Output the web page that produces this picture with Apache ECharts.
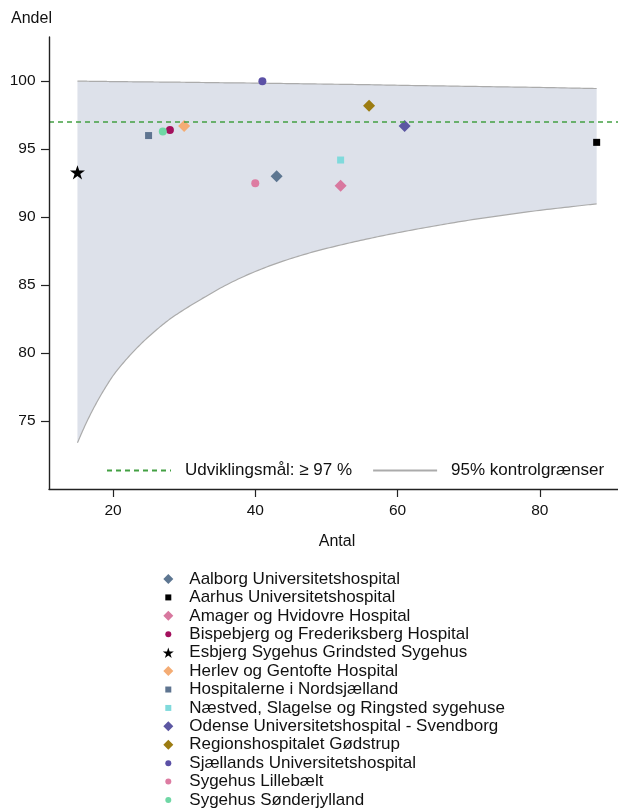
<!DOCTYPE html>
<html><head><meta charset="utf-8">
<script src="https://cdn.jsdelivr.net/npm/echarts@6/dist/echarts.min.js"></script>
<style>html,body{margin:0;padding:0;background:#fff}#c{width:618px;height:810px}</style>
</head><body><div id="c"></div>
<script>
// ---- data ----
const hospitals = [
  'Aalborg Universitetshospital',
  'Aarhus Universitetshospital',
  'Amager og Hvidovre Hospital',
  'Bispebjerg og Frederiksberg Hospital',
  'Esbjerg Sygehus Grindsted Sygehus',
  'Herlev og Gentofte Hospital',
  'Hospitalerne i Nordsjælland',
  'Næstved, Slagelse og Ringsted sygehuse',
  'Odense Universitetshospital - Svendborg',
  'Regionshospitalet Gødstrup',
  'Sjællands Universitetshospital',
  'Sygehus Lillebælt',
  'Sygehus Sønderjylland'
];
const antal = [43, 88, 52, 28, 15, 30, 25, 52, 61, 56, 41, 40, 27];
const andel = [93.0, 95.5, 92.3, 96.4, 93.3, 96.7, 96.0, 94.2, 96.7, 98.2, 100, 92.5, 96.3];

const targetLabel = 'Udviklingsmål: ≥ 97 %';
const targetValue = 97;
const limitLabel = '95% kontrolgrænser';

const limitN = [15, 16, 17, 18, 19, 20, 22, 24, 26, 28, 30, 33, 36, 40, 44, 48, 52, 56, 60, 65, 70, 75, 80, 85, 88];
const lowerLimit = [73.4, 74.59, 75.67, 76.64, 77.52, 78.33, 79.61, 80.71, 81.66, 82.5, 83.2, 84.15, 85.03, 86.0, 86.78, 87.42, 87.95, 88.42, 88.85, 89.33, 89.77, 90.15, 90.5, 90.8, 90.98];
const upperLimit = [100, 100, 99.99, 99.99, 99.98, 99.97, 99.96, 99.95, 99.94, 99.93, 99.92, 99.9, 99.88, 99.86, 99.83, 99.8, 99.77, 99.74, 99.7, 99.66, 99.62, 99.58, 99.54, 99.49, 99.46];

const xTicks = [20, 40, 60, 80];
const yTicks = [75, 80, 85, 90, 95, 100];

// ---- styles ----
const STAR = 'path://M0,-10 L2.245,-3.09 L9.51,-3.09 L3.633,1.18 L5.88,8.09 L0,3.82 L-5.88,8.09 L-3.633,1.18 L-9.51,-3.09 L-2.245,-3.09 Z';
const symbols = ['diamond', 'rect', 'diamond', 'circle', STAR, 'diamond', 'rect', 'rect', 'diamond', 'diamond', 'circle', 'circle', 'circle'];
const colors = ['#5d7691', '#000000', '#d8789f', '#a3105d', '#000000', '#f4ac74', '#5e7490', '#80dadc', '#5c57a2', '#9c7c12', '#5b50a6', '#dd7ca2', '#6fd7a5'];
const plotSize = {diamond: 12, rect: 7, circle: 8, star: 15};
const legSize = {diamond: 10, rect: 6, circle: 6, star: 11};
const kind = s => s === STAR ? 'star' : s;

const FONT = 'Liberation Sans, Arial, Helvetica, sans-serif';
const TXT = '#111';
const LIMIT_COLOR = '#ababab';
const BAND_COLOR = '#dde1ea';
const TARGET_COLOR = '#43a043';

// monotone cubic rendering of pixel points (x increasing)
function monotoneCurve(pts, steps) {
  const n = pts.length, dx = [], m = [], t = [];
  for (let i = 0; i < n - 1; i++) {
    dx[i] = pts[i + 1][0] - pts[i][0];
    m[i] = (pts[i + 1][1] - pts[i][1]) / dx[i];
  }
  t[0] = m[0]; t[n - 1] = m[n - 2];
  for (let i = 1; i < n - 1; i++) {
    if (m[i - 1] * m[i] <= 0) { t[i] = 0; continue; }
    const w1 = 2 * dx[i] + dx[i - 1], w2 = dx[i] + 2 * dx[i - 1];
    t[i] = (w1 + w2) / (w1 / m[i - 1] + w2 / m[i]);
  }
  const out = [pts[0].slice()];
  for (let i = 0; i < n - 1; i++) {
    const y0 = pts[i][1], y1 = pts[i + 1][1], h = dx[i];
    for (let s = 1; s <= steps; s++) {
      const u = s / steps, u2 = u * u, u3 = u2 * u;
      const y = (2 * u3 - 3 * u2 + 1) * y0 + (u3 - 2 * u2 + u) * h * t[i] +
                (-2 * u3 + 3 * u2) * y1 + (u3 - u2) * h * t[i + 1];
      out.push([pts[i][0] + u * h, y]);
    }
  }
  return out;
}

const series = [];
// shaded control band + its limit lines, through the axes' coordinate system
series.push({
  type: 'custom', name: 'band', z: 1, silent: true, clip: true,
  data: [[limitN[0], upperLimit[0]]],
  renderItem: function (params, api) {
    const lo = monotoneCurve(limitN.map((n, i) => api.coord([n, lowerLimit[i]])), 10);
    const up = monotoneCurve(limitN.map((n, i) => api.coord([n, upperLimit[i]])), 10);
    const poly = lo.concat(up.slice().reverse());
    return {
      type: 'group',
      children: [
        {type: 'polygon', shape: {points: poly}, style: {fill: BAND_COLOR, stroke: null}},
        {type: 'polyline', shape: {points: lo}, style: {stroke: LIMIT_COLOR, lineWidth: 1.2, fill: null}},
        {type: 'polyline', shape: {points: up}, style: {stroke: LIMIT_COLOR, lineWidth: 1.2, fill: null}}
      ]
    };
  }
});
// legend carrier for the control limits
series.push({
  type: 'line', name: limitLabel, symbol: 'none', data: [],
  lineStyle: {color: LIMIT_COLOR, width: 1.2}, itemStyle: {color: LIMIT_COLOR}
});
series.push({
  type: 'line', name: targetLabel, z: 4, symbol: 'none', data: [],
  lineStyle: {color: TARGET_COLOR, width: 1.6, type: [5, 4]}, itemStyle: {color: TARGET_COLOR},
  markLine: {
    silent: true, symbol: 'none', label: {show: false},
    lineStyle: {color: TARGET_COLOR, width: 1.6, type: [5, 4]},
    data: [{yAxis: targetValue}]
  }
});
hospitals.forEach((h, i) => {
  series.push({
    type: 'scatter', name: h, z: 3,
    data: [[antal[i], andel[i]]],
    symbol: symbols[i], symbolKeepAspect: true,
    symbolSize: plotSize[kind(symbols[i])],
    itemStyle: {color: colors[i], opacity: 1}
  });
});

const legends = [{
  data: [targetLabel, limitLabel],
  left: 106, top: 462, padding: 0, orient: 'horizontal', z: 10,
  itemWidth: 64, itemHeight: 14, itemGap: 20, selectedMode: false,
  itemStyle: {color: 'rgba(0,0,0,0)', opacity: 0, borderWidth: 0},
  textStyle: {fontSize: 17, fontFamily: FONT, color: TXT, padding: [0, 0, 0, 9]}
}];
hospitals.forEach((h, i) => {
  const s = legSize[kind(symbols[i])];
  legends.push({
    data: [h], left: 168.3 - s / 2, top: 579 + i * 18.42 - 8.5, padding: 0,
    itemWidth: s, itemHeight: s, selectedMode: false,
    textStyle: {fontSize: 17, fontFamily: FONT, color: TXT, padding: [0, 0, 0, 16 - s / 2]}
  });
});

const chart = echarts.init(document.getElementById('c'), null, {renderer: 'canvas'});
chart.setOption({
  backgroundColor: '#ffffff',
  animation: false,
  textStyle: {fontFamily: FONT},
  grid: {left: 49, top: 37, right: 0, bottom: 321, containLabel: false, outerBoundsMode: 'none'},
  xAxis: {
    type: 'value', min: 11, max: 91, z: 10,
    name: 'Antal', nameLocation: 'middle', nameGap: 45,
    nameTextStyle: {fontSize: 16, color: TXT, fontFamily: FONT, padding: [0, 0, 0, 7]},
    axisLine: {lineStyle: {color: '#222', width: 1.4}},
    axisTick: {show: true, length: 8, customValues: xTicks, lineStyle: {color: '#222', width: 1.2}},
    axisLabel: {customValues: xTicks, margin: 14, fontSize: 15.5, color: TXT, fontFamily: FONT},
    splitLine: {show: false}
  },
  yAxis: {
    type: 'value', min: 70, max: 103.25, z: 10,
    name: 'Andel', nameLocation: 'end', nameGap: 10,
    nameTextStyle: {fontSize: 16, color: TXT, fontFamily: FONT, align: 'center', padding: [0, 35, 0, 0]},
    axisLine: {show: true, lineStyle: {color: '#222', width: 1.4}},
    axisTick: {show: true, length: 8, customValues: yTicks, lineStyle: {color: '#222', width: 1.2}},
    axisLabel: {customValues: yTicks, margin: 13.5, fontSize: 15.5, color: TXT, fontFamily: FONT},
    splitLine: {show: false}
  },
  legend: legends,
  series: series
});
</script>
</body></html>
